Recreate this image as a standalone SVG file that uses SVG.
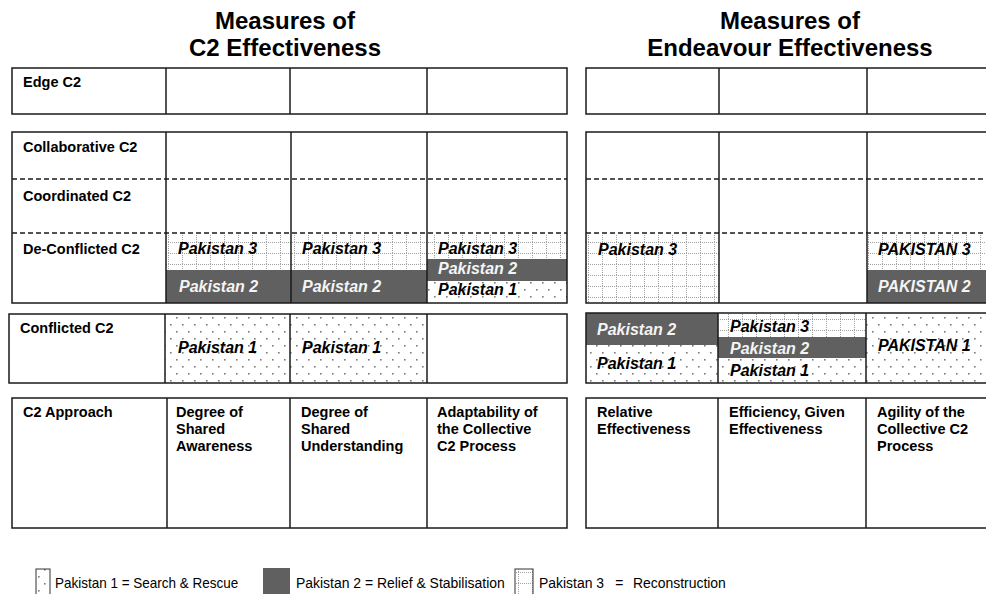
<svg xmlns="http://www.w3.org/2000/svg" width="986" height="594" viewBox="0 0 986 594">
<defs>
<pattern id="p1" patternUnits="userSpaceOnUse" width="12" height="14">
<rect x="2" y="2" width="1.6" height="1.6" fill="#7a7a7a"/>
<rect x="8" y="9" width="1.6" height="1.6" fill="#7a7a7a"/>
</pattern>
<pattern id="p3" patternUnits="userSpaceOnUse" width="14" height="11">
<line x1="0" y1="0.5" x2="14" y2="0.5" stroke="#a0a0a0" stroke-width="1" stroke-dasharray="1 1"/>
<line x1="0.5" y1="0" x2="0.5" y2="11" stroke="#a0a0a0" stroke-width="1" stroke-dasharray="1 1"/>
</pattern>
<style>
.box{fill:none;stroke:#1a1a1a;stroke-width:1.5}
.ln{stroke:#1a1a1a;stroke-width:1.5}
.dash{stroke:#1a1a1a;stroke-width:1.5;stroke-dasharray:5 3}
.dark{fill:#606060}
.f1{fill:url(#p1)}
.f3{fill:url(#p3)}
.title{font-family:"Liberation Sans",Arial,sans-serif;font-weight:bold;font-size:24px;fill:#000;text-anchor:middle}
.lab{font-family:"Liberation Sans",Arial,sans-serif;font-weight:bold;font-size:14.5px;fill:#000}
.pk{font-family:"Liberation Sans",Arial,sans-serif;font-weight:bold;font-style:italic;font-size:16px;fill:#000}
.pkw{font-family:"Liberation Sans",Arial,sans-serif;font-weight:bold;font-style:italic;font-size:16px;fill:#f4f4f4}
.leg{font-family:"Liberation Sans",Arial,sans-serif;font-size:15px;fill:#000}
</style>
</defs>
<rect width="986" height="594" fill="#fff"/>

<g id="titles">
<text class="title" x="285" y="29">Measures of</text>
<text class="title" x="285" y="56">C2 Effectiveness</text>
<text class="title" x="790" y="29">Measures of</text>
<text class="title" x="790" y="56">Endeavour Effectiveness</text>
</g>

<g id="fills">
<rect class="f3" x="166" y="234" width="124" height="36"/>
<rect class="dark" x="166" y="270" width="124" height="33"/>
<rect class="f3" x="290" y="234" width="137" height="36"/>
<rect class="dark" x="290" y="270" width="137" height="33"/>
<rect class="f3" x="427" y="234" width="140" height="25"/>
<rect class="dark" x="427" y="259" width="140" height="22"/>
<rect class="f1" x="427" y="281" width="140" height="22"/>
<rect class="f1" x="165" y="314" width="125" height="69"/>
<rect class="f1" x="290" y="314" width="137" height="69"/>
<rect class="f3" x="586" y="234" width="133" height="69"/>
<rect class="f3" x="867" y="234" width="140" height="36"/>
<rect class="dark" x="867" y="270" width="140" height="33"/>
<rect class="dark" x="586" y="313" width="132" height="32"/>
<rect class="f1" x="586" y="345" width="132" height="38"/>
<rect class="f3" x="718" y="313" width="148" height="24"/>
<rect class="dark" x="718" y="337" width="148" height="21"/>
<rect class="f1" x="718" y="358" width="148" height="25"/>
<rect class="f1" x="866" y="313" width="140" height="70"/>
</g>

<g id="left-table">
<rect class="box" x="12" y="68" width="555" height="46"/>
<line class="ln" x1="166" y1="68" x2="166" y2="114"/>
<line class="ln" x1="290" y1="68" x2="290" y2="114"/>
<line class="ln" x1="427" y1="68" x2="427" y2="114"/>
<rect class="box" x="12" y="132" width="555" height="171"/>
<line class="dash" x1="12" y1="179" x2="567" y2="179"/>
<line class="dash" x1="12" y1="233" x2="567" y2="233"/>
<line class="ln" x1="166" y1="132" x2="166" y2="303"/>
<line class="ln" x1="291" y1="132" x2="291" y2="303"/>
<line class="ln" x1="427" y1="132" x2="427" y2="303"/>
<rect class="box" x="9" y="314" width="558" height="69"/>
<line class="ln" x1="165" y1="314" x2="165" y2="383"/>
<line class="ln" x1="290" y1="314" x2="290" y2="383"/>
<line class="ln" x1="427" y1="314" x2="427" y2="383"/>
<rect class="box" x="12" y="398" width="555" height="130"/>
<line class="ln" x1="167" y1="398" x2="167" y2="528"/>
<line class="ln" x1="290" y1="398" x2="290" y2="528"/>
<line class="ln" x1="427" y1="398" x2="427" y2="528"/>
</g>

<g id="right-table">
<rect class="box" x="586" y="68" width="430" height="46"/>
<line class="ln" x1="719" y1="68" x2="719" y2="114"/>
<line class="ln" x1="867" y1="68" x2="867" y2="114"/>
<rect class="box" x="586" y="132" width="430" height="171"/>
<line class="dash" x1="586" y1="179" x2="986" y2="179"/>
<line class="dash" x1="586" y1="233" x2="986" y2="233"/>
<line class="ln" x1="719" y1="132" x2="719" y2="303"/>
<line class="ln" x1="867" y1="132" x2="867" y2="303"/>
<rect class="box" x="586" y="313" width="430" height="70"/>
<line class="ln" x1="718" y1="313" x2="718" y2="383"/>
<line class="ln" x1="866" y1="313" x2="866" y2="383"/>
<rect class="box" x="586" y="398" width="430" height="130"/>
<line class="ln" x1="718" y1="398" x2="718" y2="528"/>
<line class="ln" x1="866" y1="398" x2="866" y2="528"/>
</g>

<g id="row-labels">
<text class="lab" x="23" y="87">Edge C2</text>
<text class="lab" x="23" y="152">Collaborative C2</text>
<text class="lab" x="23" y="201">Coordinated C2</text>
<text class="lab" x="23" y="254">De-Conflicted C2</text>
<text class="lab" x="20" y="333">Conflicted C2</text>
<text class="lab" x="23" y="417">C2 Approach</text>
</g>

<g id="measure-labels">
<text class="lab" x="176" y="417">Degree of<tspan x="176" dy="17">Shared</tspan><tspan x="176" dy="17">Awareness</tspan></text>
<text class="lab" x="301" y="417">Degree of<tspan x="301" dy="17">Shared</tspan><tspan x="301" dy="17">Understanding</tspan></text>
<text class="lab" x="437" y="417">Adaptability of<tspan x="437" dy="17">the Collective</tspan><tspan x="437" dy="17">C2 Process</tspan></text>
<text class="lab" x="597" y="417">Relative<tspan x="597" dy="17">Effectiveness</tspan></text>
<text class="lab" x="729" y="417">Efficiency, Given<tspan x="729" dy="17">Effectiveness</tspan></text>
<text class="lab" x="877" y="417">Agility of the<tspan x="877" dy="17">Collective C2</tspan><tspan x="877" dy="17">Process</tspan></text>
</g>

<g id="pakistan-labels">
<text class="pk" x="178" y="254">Pakistan 3</text>
<text class="pkw" x="179" y="292">Pakistan 2</text>
<text class="pk" x="302" y="254">Pakistan 3</text>
<text class="pkw" x="302" y="292">Pakistan 2</text>
<text class="pk" x="438" y="254">Pakistan 3</text>
<text class="pkw" x="438" y="274">Pakistan 2</text>
<text class="pk" x="438" y="295">Pakistan 1</text>
<text class="pk" x="178" y="353">Pakistan 1</text>
<text class="pk" x="302" y="353">Pakistan 1</text>
<text class="pk" x="598" y="255">Pakistan 3</text>
<text class="pk" x="878" y="255">PAKISTAN 3</text>
<text class="pkw" x="878" y="292">PAKISTAN 2</text>
<text class="pkw" x="597" y="335">Pakistan 2</text>
<text class="pk" x="597" y="369">Pakistan 1</text>
<text class="pk" x="730" y="332">Pakistan 3</text>
<text class="pkw" x="730" y="354">Pakistan 2</text>
<text class="pk" x="730" y="376">Pakistan 1</text>
<text class="pk" x="878" y="351">PAKISTAN 1</text>
</g>

<g id="legend">
<rect x="36" y="569" width="14" height="26" fill="url(#p1)" stroke="#333" stroke-width="1"/>
<text class="leg" transform="translate(55,588) scale(0.9,1)">Pakistan 1 = Search &amp; Rescue</text>
<rect class="dark" x="263" y="568" width="27" height="27"/>
<text class="leg" transform="translate(296,588) scale(0.93,1)">Pakistan 2 = Relief &amp; Stabilisation</text>
<rect x="515" y="569" width="18" height="26" fill="url(#p3)" stroke="#333" stroke-width="1"/>
<text class="leg" transform="translate(539,588) scale(0.93,1)">Pakistan 3<tspan x="82">=</tspan><tspan x="101">Reconstruction</tspan></text>
</g>
</svg>
